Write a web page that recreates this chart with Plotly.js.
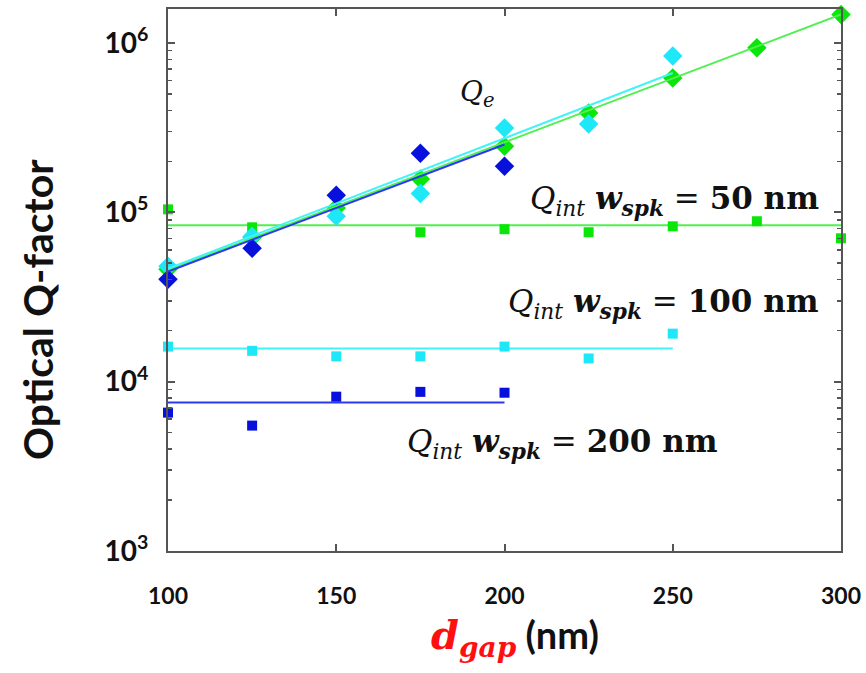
<!DOCTYPE html>
<html>
<head>
<meta charset="utf-8">
<script src="https://cdn.plot.ly/plotly-3.0.1.min.js"></script>
<style>html,body{margin:0;padding:0;background:#fff;}#chart{width:866px;height:673px;}</style>
</head>
<body>
<div id="chart"></div>
<script>
// ---- data ----
const gap = [100, 125, 150, 175, 200, 225, 250, 275, 300];

// Qe (extrinsic) diamonds
const qe200 = [40200, 61300, 126000, 223000, 187000];
const qe100 = [48000, 72000, 94700, 129000, 314000, 332000, 837000];
const qe50  = [46000, 71000, 106000, 157000, 245000, 385000, 621000, 935000, 1470000];

// Qe fit line endpoints
const fitX200 = [100, 200], fitY200 = [44700, 251000];
const fitX100 = [100, 250], fitY100 = [46500, 664000];
const fitX50  = [100, 300], fitY50  = [45500, 1470000];

// Qint squares
const gap50int  = [100, 125, 175, 200, 225, 250, 275, 300];
const qint50    = [104000, 81500, 76200, 79400, 76200, 82600, 88500, 70200];
const qint100   = [16100, 15200, 14100, 14100, 16100, 13700, 19200];
const qint200   = [6560, 5500, 8150, 8700, 8600];

// Qint mean lines
const mX50 = [100, 300], mY50 = [83800, 83800];
const mX100 = [100, 250], mY100 = [15700, 15700];
const mX200 = [100, 200], mY200 = [7520, 7520];

const yTickVals = [1e3, 1e4, 1e5, 1e6];
const yTickText = ['10<sup>3</sup>', '10<sup>4</sup>', '10<sup>5</sup>', '10<sup>6</sup>'];
const xTickVals = [100, 150, 200, 250, 300];

// colours
const cGreen = '#0ae60a', cCyan = '#1ee8f8', cBlue = '#0810dc';
const lGreen = '#50f050', lCyan = '#40f4f8', lBlue = '#2a3af0';

// minor tick positions on log axis
const minorVals = [];
[1e3, 1e4, 1e5, 1e6].forEach(d => { for (let k = 2; k <= 9; k++) minorVals.push(d * k); });

const traces = [
  {x: mX50, y: mY50, mode: 'lines', line: {color: lGreen, width: 2}},
  {x: mX100, y: mY100, mode: 'lines', line: {color: lCyan, width: 2}},
  {x: mX200, y: mY200, mode: 'lines', line: {color: lBlue, width: 2}},
  {x: gap50int, y: qint50, mode: 'markers', cliponaxis: false, marker: {symbol: 'square', size: 10, color: cGreen}},
  {x: gap.slice(0, 7), y: qint100, mode: 'markers', cliponaxis: false, marker: {symbol: 'square', size: 10, color: cCyan}},
  {x: gap.slice(0, 5), y: qint200, mode: 'markers', cliponaxis: false, marker: {symbol: 'square', size: 10, color: cBlue}},
  {x: gap.slice(0, 9), y: qe50, mode: 'markers', cliponaxis: false, marker: {symbol: 'diamond', size: 15, color: cGreen}},
  {x: gap.slice(0, 7), y: qe100, mode: 'markers', cliponaxis: false, marker: {symbol: 'diamond', size: 15, color: cCyan}},
  {x: gap.slice(0, 5), y: qe200, mode: 'markers', cliponaxis: false, marker: {symbol: 'diamond', size: 15, color: cBlue}},
  {x: fitX50, y: fitY50, mode: 'lines', line: {color: lGreen, width: 2}},
  {x: fitX100, y: fitY100, mode: 'lines', line: {color: lCyan, width: 2}},
  {x: fitX200, y: fitY200, mode: 'lines', line: {color: lBlue, width: 2}}
];

const serif = 'DejaVu Serif, Liberation Serif, serif';
const sans = 'Lato, Open Sans, DejaVu Sans, sans-serif';

function qlabel(n) {
  return '<i>Q</i><sub><i>int</i></sub> <b><i>w</i></b><sub><b><i>spk</i></b></sub> = <b>' + n + ' nm</b>';
}

const layout = {
  width: 866, height: 673,
  margin: {l: 168, r: 25, t: 9, b: 122},
  paper_bgcolor: '#fff', plot_bgcolor: '#fff',
  showlegend: false,
  xaxis: {
    range: [100, 300], tickmode: 'array', tickvals: xTickVals,
    ticks: 'inside', ticklen: 7, tickwidth: 2, tickcolor: '#555',
    showline: true, linecolor: '#555', linewidth: 2, mirror: 'ticks',
    showgrid: false, zeroline: false,
    tickfont: {family: sans, size: 23, color: '#111', weight: 'bold'},
    ticklabelstandoff: 23
  },
  yaxis: {
    type: 'log', range: [3, 6.2], tickmode: 'array', tickvals: yTickVals, ticktext: yTickText,
    ticks: 'inside', ticklen: 7, tickwidth: 2, tickcolor: '#555',
    minor: {tickmode: 'array', tickvals: minorVals, ticks: 'inside', ticklen: 4, tickwidth: 1.5, tickcolor: '#555', showgrid: false},
    showline: true, linecolor: '#555', linewidth: 2, mirror: 'ticks',
    showgrid: false, zeroline: false,
    tickfont: {family: sans, size: 28, color: '#111', weight: 'bold'},
    ticklabelstandoff: 12
  },
  annotations: [
    {xref: 'paper', yref: 'paper', x: -0.193, y: 0.445, xanchor: 'center', yanchor: 'middle', textangle: -90,
     text: 'Optical Q-factor', showarrow: false, font: {family: sans, size: 41, color: '#111', weight: 'bold'}},
    {xref: 'paper', yref: 'paper', x: 0.515, y: -0.16, xanchor: 'center', yanchor: 'middle',
     text: '<span style="color:#ff1010;font-family:DejaVu Serif;font-size:40px"><b><i>d</i></b><sub><b><i>gap</i></b></sub></span> (nm)',
     showarrow: false, font: {family: sans, size: 38, color: '#111', weight: 'bold'}},
    {xref: 'x', yref: 'y', x: 192, y: Math.log10(500000), text: '<i>Q</i><sub><i>e</i></sub>', showarrow: false,
     font: {family: serif, size: 28, color: '#111'}},
    {xref: 'x', yref: 'y', x: 294, y: Math.log10(118000), xanchor: 'right', text: qlabel(50), showarrow: false,
     font: {family: serif, size: 31, color: '#111'}},
    {xref: 'x', yref: 'y', x: 294, y: Math.log10(29000), xanchor: 'right', text: qlabel(100), showarrow: false,
     font: {family: serif, size: 31, color: '#111'}},
    {xref: 'x', yref: 'y', x: 264, y: Math.log10(4300), xanchor: 'right', text: qlabel(200), showarrow: false,
     font: {family: serif, size: 31, color: '#111'}}
  ]
};

Plotly.newPlot('chart', traces, layout, {displayModeBar: false, staticPlot: true});
</script>
</body>
</html>
